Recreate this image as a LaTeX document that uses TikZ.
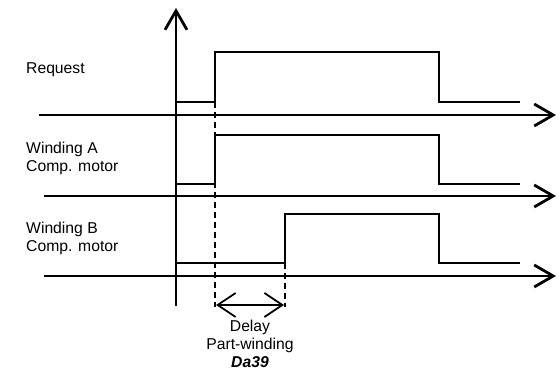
\documentclass[tikz,border=0pt]{standalone}
\usepackage{fontspec}
\setmainfont{Liberation Sans}
\usetikzlibrary{arrows.meta}
\begin{document}
\begin{tikzpicture}[x=1pt,y=-1pt,
  axis/.style={line width=2.8pt,-{Straight Barb[length=19pt,width=22pt,line width=2.8pt]}},
  sig/.style={line width=2.8pt,line join=miter},
  dsh/.style={line width=1.4pt,dash pattern=on 6pt off 4pt},
  dim/.style={line width=1.6pt,{Straight Barb[length=18pt,width=24pt,line width=1.8pt]}-{Straight Barb[length=18pt,width=24pt,line width=1.8pt]}},
  lbl/.style={font=\fontsize{15.7}{18}\selectfont,align=left,anchor=west,inner sep=0pt},
  ctr/.style={font=\fontsize{15.7}{18}\selectfont,anchor=center,inner sep=0pt}]
\useasboundingbox (0,0) rectangle (560,374);
% axes
\coordinate (vb) at (176,306);
\coordinate (vt) at (176,8);
\coordinate (r0) at (39,115);
\coordinate (r1) at (556,115);
\coordinate (a0) at (44,196);
\coordinate (a1) at (556,196);
\coordinate (b0) at (44,276);
\coordinate (b1) at (556,276);
\draw[axis] (vb) -- (vt);
\draw[axis] (r0) -- (r1);
\draw[axis] (a0) -- (a1);
\draw[axis] (b0) -- (b1);
% signals
\coordinate (rs) at (176,102);
\coordinate (re) at (520,102);
\draw[sig] (rs) -- (215,102) -- (215,52) -- (439,52) -- (439,102) -- (re);
\coordinate (as) at (176,184);
\coordinate (ae) at (520,184);
\draw[sig] (as) -- (215,184) -- (215,135) -- (439,135) -- (439,184) -- (ae);
\coordinate (bs) at (176,263);
\coordinate (be) at (520,263);
\draw[sig] (bs) -- (285,263) -- (285,214) -- (439,214) -- (439,263) -- (be);
% dashed guides
\coordinate (d1t) at (215,102);
\coordinate (d1b) at (215,307);
\coordinate (d2t) at (285,263);
\coordinate (d2b) at (285,307);
\draw[dsh] (d1t) -- (d1b);
\draw[dsh] (d2t) -- (d2b);
% dimension arrow
\coordinate (m1) at (216,305);
\coordinate (m2) at (284,305);
\draw[dim] (m1) -- (m2);
% labels
\node[lbl] (req) at (26,70) {Request};
\node[lbl] (wa) at (26,158) {Winding A\\Comp. motor};
\node[lbl] (wb) at (26,238) {Winding B\\Comp. motor};
\node[ctr] (d1) at (250,327) {Delay};
\node[ctr] (d2) at (250,345) {Part-winding};
\node[ctr] (d3) at (250,362) {\textbf{\textit{Da39}}};
\end{tikzpicture}
\end{document}
